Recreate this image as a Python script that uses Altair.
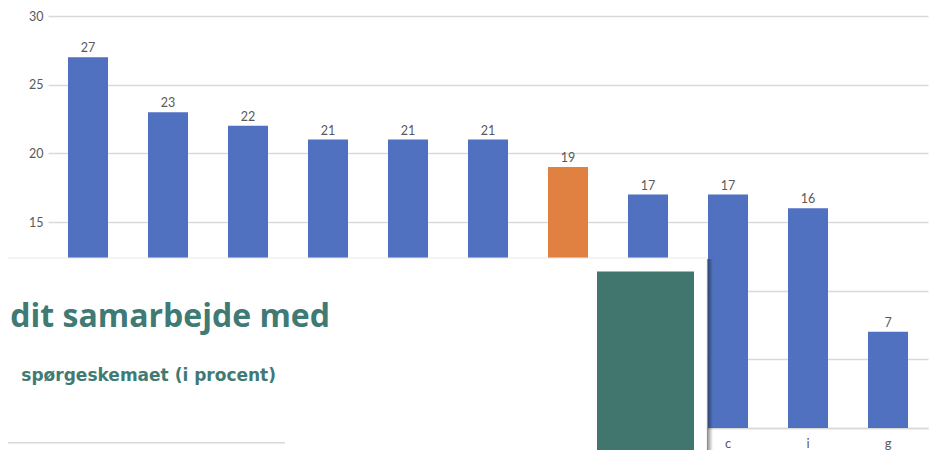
import altair as alt
import pandas as pd

categories = ["a", "b", "d", "e", "f", "h", "j", "k", "c", "i", "g"]
values = [27, 23, 22, 21, 21, 21, 19, 17, 17, 16, 7]
highlight = [False, False, False, False, False, False, True, False, False, False, False]
y_ticks = [0, 5, 10, 15, 20, 25, 30]
visible_x_labels = ["c", "i", "g"]

df = pd.DataFrame({"cat": categories, "val": values, "hl": highlight})

FONT = "Lato"
TFONT = "Open Sans"
SFONT = "DejaVu Sans"
GRAY = "#595959"
TEAL = "#3f7a74"

base = alt.Chart(df)

x_expr = "indexof(" + str(visible_x_labels) + ", datum.value) >= 0 ? datum.label : ''"

bars = base.mark_bar().encode(
    x=alt.X("cat:N", sort=categories,
            scale=alt.Scale(paddingInner=0.5, paddingOuter=0.25),
            axis=alt.Axis(title=None, labelAngle=0, ticks=False, labelFontSize=13,
                          labelColor=GRAY, labelFont=FONT, labelPadding=9,
                          labelExpr=x_expr,
                          domainColor="#d9d9d9", domainWidth=1.5, zindex=0)),
    y=alt.Y("val:Q", scale=alt.Scale(domain=[0, 30]),
            axis=alt.Axis(title=None, values=y_ticks, ticks=False, domain=False,
                          gridColor="#d9d9d9", gridWidth=1.5, labelFontSize=12.5,
                          labelExpr="datum.value >= 15 ? datum.label : ''",
                          labelColor=GRAY, labelFont=FONT, labelPadding=5, zindex=0)),
    color=alt.Color("hl:N", scale=alt.Scale(domain=[False, True],
                                             range=["#4f71bf", "#e08141"]), legend=None),
)

labels = base.mark_text(dy=-9, fontSize=12.5, color=GRAY, font=FONT).encode(
    x=alt.X("cat:N", sort=categories),
    y="val:Q",
    text="val:Q",
)

one = alt.Data(values=[{"k": 1}])

panel = alt.Chart(one).mark_rect(color="white", stroke="#e8e8e8", strokeWidth=1).encode(
    x=alt.value(-60), x2=alt.value(659), y=alt.value(242), y2=alt.value(470)
)

shadow = alt.Chart(one).mark_rect(
    fill=alt.Gradient(gradient="linear", x1=0, x2=1, y1=0, y2=0,
                      stops=[alt.GradientStop(color="rgba(0,0,0,0.45)", offset=0),
                             alt.GradientStop(color="rgba(0,0,0,0)", offset=1)])
).encode(x=alt.value(659), x2=alt.value(665), y=alt.value(243), y2=alt.value(470))

green = alt.Chart(one).mark_rect(color="#41766f").encode(
    x=alt.value(549), x2=alt.value(646), y=alt.value(255.5), y2=alt.value(470)
)

title1 = alt.Chart(one).mark_text(
    align="right", baseline="alphabetic", fontSize=32, fontWeight="bold",
    color=TEAL, font=TFONT
).encode(x=alt.value(282), y=alt.value(311), text=alt.value("dit samarbejde med"))

title2 = alt.Chart(one).mark_text(
    align="right", baseline="alphabetic", fontSize=17, fontWeight="bold",
    color=TEAL, font=SFONT
).encode(x=alt.value(228), y=alt.value(365), text=alt.value("spørgeskemaet (i procent)"))

line = alt.Chart(one).mark_rule(color="#d9d9d9", strokeWidth=1.5).encode(
    x=alt.value(-60), x2=alt.value(237), y=alt.value(426.7)
)

chart = alt.layer(bars, labels, panel, shadow, green, title1, title2, line).properties(
    width=880, height=412,
    autosize=alt.AutoSizeParams(type="none"),
    padding={"left": 40, "top": 8, "right": 2, "bottom": 22},
).configure_view(stroke=None)

chart.save("out.html", embed_options={"renderer": "svg", "actions": False})
